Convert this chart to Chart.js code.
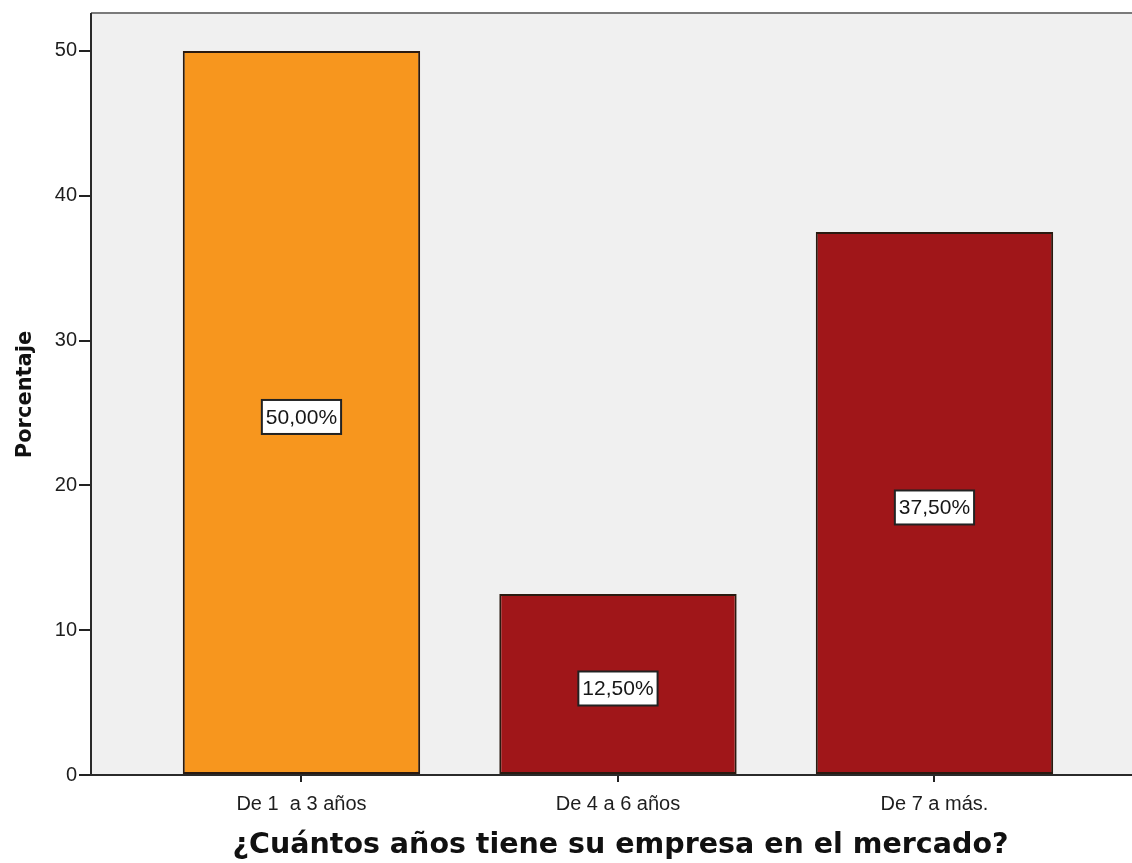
<!DOCTYPE html>
<html>
<head>
<meta charset="utf-8">
<script src="https://cdn.jsdelivr.net/npm/chart.js@4/dist/chart.umd.min.js"></script>
<style>
  html, body { margin: 0; padding: 0; background: #ffffff; overflow: hidden; }
  #wrap { position: relative; width: 1132px; height: 863px; overflow: hidden; }
  #wrap canvas { position: absolute; left: 0; top: 0; }
</style>
</head>
<body>
<div id="wrap"><canvas id="chart" width="1160" height="863"></canvas></div>
<script>
// Categories and percentages
const categories = ['De 1  a 3 años', 'De 4 a 6 años', 'De 7 a más.'];
const percentages = [50.0, 12.5, 37.5];
const barColors = ['#F7961E', '#A01619', '#A01619'];
const yTicks = [0, 10, 20, 30, 40, 50];
const xTitle = '¿Cuántos años tiene su empresa en el mercado?';
const yTitle = 'Porcentaje';

const tickFont = { family: '"Liberation Sans", Arial, sans-serif', size: 20 };
const titleFontFamily = '"DejaVu Sans", sans-serif';

// Grey plot panel with a darker top edge
const plotPanel = {
  id: 'plotPanel',
  beforeDraw(chart) {
    const { ctx, chartArea: a } = chart;
    ctx.save();
    ctx.fillStyle = '#F0F0F0';
    ctx.fillRect(a.left, a.top, a.right - a.left, a.bottom - a.top);
    ctx.strokeStyle = '#7a7a7a';
    ctx.lineWidth = 2;
    ctx.beginPath();
    ctx.moveTo(a.left, a.top - 1);
    ctx.lineTo(a.right, a.top - 1);
    ctx.stroke();
    ctx.restore();
  }
};

// Boxed percentage labels at mid-height of each bar
const valueLabels = {
  id: 'valueLabels',
  afterDatasetsDraw(chart) {
    const { ctx } = chart;
    const yScale = chart.scales.y;
    const meta = chart.getDatasetMeta(0);
    meta.data.forEach((bar, i) => {
      const v = percentages[i];
      const text = v.toFixed(2).replace('.', ',') + '%';
      ctx.save();
      ctx.font = '21px "Liberation Sans", Arial, sans-serif';
      const w = ctx.measureText(text).width + 8;
      const h = 34;
      const cx = bar.x;
      const cy = yScale.getPixelForValue(v / 2) + 4;
      ctx.fillStyle = '#ffffff';
      ctx.fillRect(cx - w / 2, cy - h / 2, w, h);
      ctx.strokeStyle = '#222222';
      ctx.lineWidth = 2;
      ctx.strokeRect(cx - w / 2, cy - h / 2, w, h);
      ctx.fillStyle = '#161616';
      ctx.textAlign = 'center';
      ctx.textBaseline = 'middle';
      ctx.fillText(text, cx, cy + 1);
      ctx.restore();
    });
  }
};

new Chart(document.getElementById('chart'), {
  type: 'bar',
  data: {
    datasets: [{
      data: percentages.map((v, i) => ({ x: i + 1, y: v })),
      backgroundColor: barColors,
      borderColor: '#2a1a10',
      borderWidth: 2,
      borderSkipped: false,
      categoryPercentage: 0.75,
      barPercentage: 1.0
    }]
  },
  options: {
    responsive: false,
    animation: false,
    devicePixelRatio: 1,
    layout: { padding: { top: 13, right: 10, left: 0, bottom: 0 } },
    plugins: {
      legend: { display: false },
      tooltip: { enabled: false },
      title: { display: false }
    },
    scales: {
      x: {
        type: 'linear',
        min: 0.335,
        max: 3.681,
        offset: false,
        afterBuildTicks: s => { s.ticks = categories.map((_, i) => ({ value: i + 1 })); },
        afterFit: s => { s.height = 88; },
        ticks: {
          callback: v => categories[v - 1],
          font: tickFont,
          color: '#1e1e1e',
          padding: 10,
          maxRotation: 0,
          autoSkip: false
        },
        grid: {
          offset: false,
          drawOnChartArea: false,
          drawTicks: true,
          tickLength: 7,
          color: '#222222',
          lineWidth: 2
        },
        border: { display: true, color: '#2a2a2a', width: 2 },
        title: {
          display: true,
          text: xTitle,
          font: { family: titleFontFamily, size: 28.5, weight: 'bold' },
          color: '#111111',
          padding: { top: 0, bottom: 0 }
        }
      },
      y: {
        min: 0,
        max: 52.55,
        afterBuildTicks: s => { s.ticks = yTicks.map(v => ({ value: v })); },
        afterFit: s => { s.width = 91; },
        ticks: {
          font: tickFont,
          color: '#1e1e1e',
          padding: 2
        },
        grid: {
          drawOnChartArea: false,
          drawTicks: true,
          tickLength: 12,
          color: '#222222',
          lineWidth: 2
        },
        border: { display: true, color: '#2a2a2a', width: 2 },
        title: {
          display: true,
          text: yTitle,
          font: { family: titleFontFamily, size: 21, weight: 'bold' },
          color: '#111111',
          padding: { top: 13, bottom: 0 }
        }
      }
    }
  },
  plugins: [plotPanel, valueLabels]
});
</script>
</body>
</html>
